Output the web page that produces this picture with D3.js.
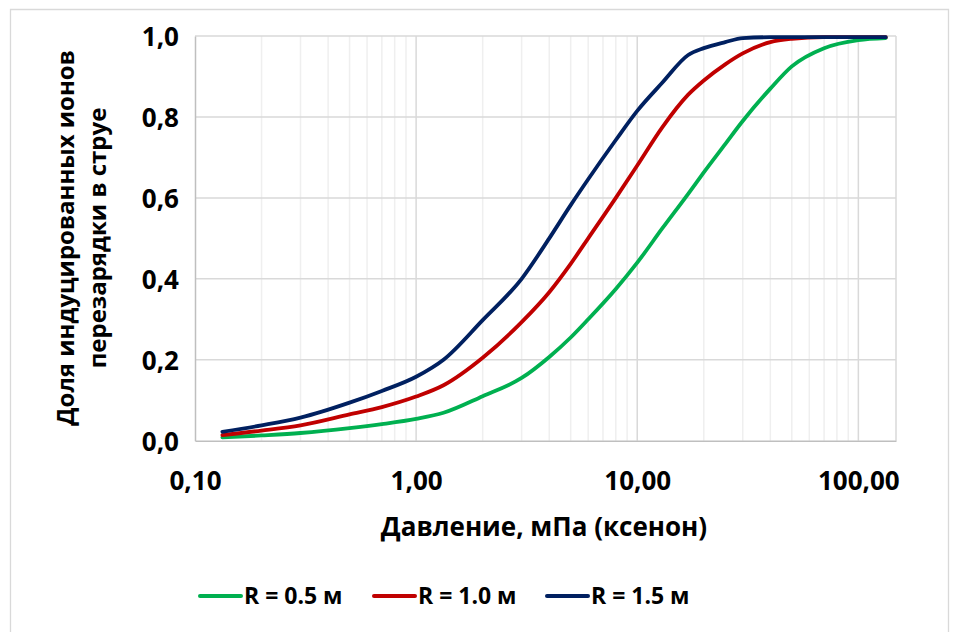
<!DOCTYPE html>
<html>
<head>
<meta charset="utf-8">
<script src="https://cdn.jsdelivr.net/npm/d3@7"></script>
<style>
  html, body { margin: 0; padding: 0; background: #fff; }
  svg { display: block; }
  text { font-family: "Open Sans", "Noto Sans", sans-serif; font-weight: bold; fill: #000; }
</style>
</head>
<body>
<svg id="chart" width="960" height="632"></svg>
<script>
// ---- data (pressure in mPa, xenon) ----
const pressures = [0.133, 0.2, 0.3, 0.5, 0.7, 1.0, 1.33, 2, 3, 4, 5, 6, 8, 10, 13, 17, 20, 25, 30, 40, 50, 70, 100, 133];
const seriesNames = ["R = 0.5 м", "R = 1.0 м", "R = 1.5 м"];
const seriesColors = ["#00b050", "#c00000", "#002060"];
const valuesR05 = [0.008, 0.013, 0.019, 0.031, 0.041, 0.054, 0.069, 0.110, 0.155, 0.207, 0.255, 0.30, 0.375, 0.44, 0.525, 0.61, 0.663, 0.733, 0.79, 0.87, 0.925, 0.97, 0.99, 0.995];
const valuesR10 = [0.014, 0.025, 0.038, 0.065, 0.083, 0.109, 0.137, 0.205, 0.293, 0.367, 0.437, 0.50, 0.60, 0.68, 0.775, 0.855, 0.89, 0.93, 0.957, 0.985, 0.993, 0.997, 0.997, 0.997];
const valuesR15 = [0.022, 0.038, 0.057, 0.094, 0.123, 0.158, 0.20, 0.298, 0.40, 0.50, 0.582, 0.646, 0.743, 0.815, 0.885, 0.953, 0.97, 0.985, 0.995, 0.997, 0.997, 0.997, 0.997, 0.997];
const xTickValues = [0.1, 1, 10, 100];
const xTickLabels = ["0,10", "1,00", "10,00", "100,00"];
const yTickValues = [0, 0.2, 0.4, 0.6, 0.8, 1.0];
const yTickLabels = ["0,0", "0,2", "0,4", "0,6", "0,8", "1,0"];
const xTitle = "Давление, мПа (ксенон)";
const yTitleLines = ["Доля индуцированных ионов", "перезарядки в струе"];

const allSeries = [valuesR05, valuesR10, valuesR15];

const svg = d3.select("#chart");
const W = 960, H = 632;
const plot = { left: 195, right: 896, top: 36, bottom: 440.7 };

// outer frame
svg.append("path")
  .attr("d", `M10.5,${H + 2} V9.5 H948.5 V${H + 2}`)
  .attr("fill", "none").attr("stroke", "#d9d9d9").attr("stroke-width", 1.3);

const x = d3.scaleLog().domain([0.1, 148]).range([plot.left, plot.right]);
const y = d3.scaleLinear().domain([0, 1]).range([plot.bottom, plot.top]);

// minor vertical gridlines
const minor = [];
[0.1, 1, 10, 100].forEach(d => { for (let k = 2; k <= 9; k++) { const v = d * k; if (v < 148) minor.push(v); } });
svg.append("g").selectAll("line").data(minor).join("line")
  .attr("x1", d => x(d)).attr("x2", d => x(d))
  .attr("y1", plot.top).attr("y2", plot.bottom)
  .attr("stroke", "#efefef").attr("stroke-width", 1.5);

// major vertical gridlines
svg.append("g").selectAll("line").data([1, 10, 100]).join("line")
  .attr("x1", d => x(d)).attr("x2", d => x(d))
  .attr("y1", plot.top).attr("y2", plot.bottom)
  .attr("stroke", "#d9d9d9").attr("stroke-width", 1.5);

// right edge line
svg.append("line")
  .attr("x1", plot.right).attr("x2", plot.right)
  .attr("y1", plot.top).attr("y2", plot.bottom)
  .attr("stroke", "#d9d9d9").attr("stroke-width", 1.5);

// horizontal gridlines
svg.append("g").selectAll("line").data(yTickValues.slice(1)).join("line")
  .attr("x1", plot.left).attr("x2", plot.right)
  .attr("y1", d => y(d)).attr("y2", d => y(d))
  .attr("stroke", "#d9d9d9").attr("stroke-width", 1.5);

// axes via d3 axis generators
const xAxis = d3.axisBottom(x).tickValues(xTickValues)
  .tickFormat((d, i) => xTickLabels[i]).tickSize(0).tickPadding(0);
const gx = svg.append("g").attr("transform", `translate(0,${plot.bottom})`).call(xAxis);
gx.select(".domain").attr("stroke", "#bfbfbf").attr("stroke-width", 1.5);
gx.selectAll("text").attr("font-size", 26).attr("font-family", "'Open Sans', sans-serif")
  .attr("font-weight", "bold").attr("dy", null).attr("y", 49).attr("fill", "#000");

const yAxis = d3.axisLeft(y).tickValues(yTickValues)
  .tickFormat((d, i) => yTickLabels[i]).tickSize(0).tickPadding(0);
const gy = svg.append("g").attr("transform", `translate(${plot.left},0)`).call(yAxis);
gy.select(".domain").attr("stroke", "#bfbfbf").attr("stroke-width", 1.5);
gy.selectAll("text").attr("font-size", 26).attr("font-family", "'Open Sans', sans-serif")
  .attr("font-weight", "bold").attr("x", -16).attr("dy", "0.36em").attr("fill", "#000");

// series lines
const line = d3.line()
  .x((d, i) => x(pressures[i]))
  .y(d => y(d))
  .curve(d3.curveMonotoneX);

svg.append("g").selectAll("path").data(allSeries).join("path")
  .attr("d", d => line(d))
  .attr("fill", "none")
  .attr("stroke", (d, i) => seriesColors[i])
  .attr("stroke-width", 3.8)
  .attr("stroke-linejoin", "round")
  .attr("stroke-linecap", "round");

// x axis title
svg.append("text")
  .attr("x", 544).attr("y", 536)
  .attr("text-anchor", "middle")
  .attr("font-size", 26)
  .text(xTitle);

// y axis title (two lines, rotated)
const yTitleX = [66, 98];
svg.append("g").selectAll("text").data(yTitleLines).join("text")
  .attr("transform", (d, i) => `translate(${yTitleX[i]},238) rotate(-90)`)
  .attr("text-anchor", "middle")
  .attr("dy", "0.35em")
  .attr("font-size", 24)
  .text(d => d);

// legend
const legendX = [198, 372, 545];
const lg = svg.append("g").selectAll("g").data(seriesNames).join("g")
  .attr("transform", (d, i) => `translate(${legendX[i]},596)`);
lg.append("line").attr("x1", 2).attr("x2", 43).attr("y1", 0).attr("y2", 0)
  .attr("stroke", (d, i) => seriesColors[i]).attr("stroke-width", 4).attr("stroke-linecap", "round");
lg.append("text").attr("x", 46).attr("y", 0).attr("dy", "0.36em")
  .attr("font-size", 23).text(d => d);
</script>
</body>
</html>
